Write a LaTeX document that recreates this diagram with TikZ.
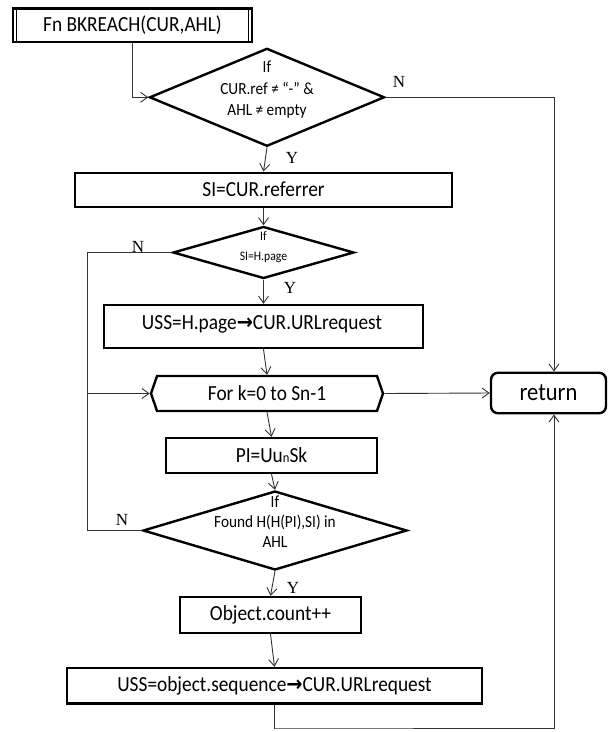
\documentclass[tikz,border=0pt]{standalone}
\usepackage{fontspec}
\setmainfont{Carlito}[FakeStretch=0.9]
\newfontfamily\ynfont{Liberation Serif}
\newfontfamily\symfont{DejaVu Sans}[FakeStretch=0.9]
\usetikzlibrary{shapes.geometric,shapes.symbols,arrows.meta}

\begin{document}
\begin{tikzpicture}[x=1pt,y=-1pt,
  box/.style={draw=black, line width=2.4pt, inner sep=0pt, font=\fontsize{21.5}{24}\selectfont},
  dec/.style={draw=black, diamond, line width=2.4pt, inner sep=0pt},
  dtext/.style={align=center, inner sep=0pt},
  btext/.style={inner sep=0pt, font=\fontsize{21.5}{24}\selectfont},
  conn/.style={draw=black!80, line width=0.9pt},
  arr/.style={conn, -{Straight Barb[length=7pt,width=10pt]}},
  yn/.style={font=\ynfont\fontsize{17}{17}\selectfont, inner sep=0pt},
]
\useasboundingbox (0,0) rectangle (608,732);

% function header with side bars
\node[box, minimum width=239, minimum height=33.4] (fn) at (132.5,25) {Fn BKREACH(CUR,AHL)};
\draw[line width=1pt] ([xshift=4.5]fn.north west) -- ([xshift=4.5]fn.south west);
\draw[line width=1pt] ([xshift=-4.5]fn.north east) -- ([xshift=-4.5]fn.south east);

% first test
\node[dec, minimum width=235, minimum height=98] (d1) at (267,97.3) {};
\node[dtext, font=\fontsize{17}{21.5}\selectfont] (d1t) at (267,90) {If\\CUR.ref ≠ “-” \&\\AHL ≠ empty};

\node[box, minimum width=377, minimum height=34] (si) at (263.5,189.7) {SI=CUR.referrer};

% second test
\node[dec, minimum width=181, minimum height=52] (d2) at (263.5,252.5) {};
\node[dtext, font=\fontsize{13}{20}\selectfont] (d2t) at (263.5,247) {If\\SI=H.page};

\node[box, minimum width=319, minimum height=43] (uss1) at (263.5,326.5) {};
\node[btext, anchor=base] (uss1t) at (262,329) {USS=H.page{\symfont\bfseries →}CUR.URLrequest};

% loop head
\node[box, signal, signal to=west and east, signal pointer angle=142,
      minimum width=232, minimum height=35] (hex) at (267,393.5) {For k=0 to Sn-1};

\node[box, rounded corners=7pt, minimum width=115, minimum height=40.5,
      font=\fontsize{25}{28}\selectfont] (ret) at (548.5,393) {return};

\node[box, minimum width=211, minimum height=35] (pi) at (271.5,455.5) {PI=Uu{\fontsize{14}{14}\selectfont n}Sk};

% third test
\node[dec, minimum width=264, minimum height=79] (d3) at (275,530.5) {};
\node[dtext, font=\fontsize{17}{20}\selectfont] (d3t) at (275,522) {If\\Found H(H(PI),SI) in\\AHL};

\node[box, minimum width=181, minimum height=36] (obj) at (270.5,615) {Object.count++};
\node[box, minimum width=415, minimum height=35.5] (uss2) at (274.5,685.7) {USS=object.sequence{\symfont\bfseries →}CUR.URLrequest};

% branch labels
\node[yn] (n1) at (399,82) {N};
\node[yn] (y1) at (292,158) {Y};
\node[yn] (n2) at (138,247) {N};
\node[yn] (y2) at (290,288) {Y};
\node[yn] (n3) at (122,520) {N};
\node[yn] (y3) at (293,588) {Y};

% connectors
\draw[arr] (fn.south) |- (d1.west);
\draw[arr] (d1.east) -| ([xshift=5.5]ret.north);
\draw[arr] (d1.south) -- (si.north);
\draw[arr] (si.south) -- (d2.north);
\coordinate (lft) at (87,252.5);
\coordinate (lfb) at (87,530.5);
\draw[conn] (d2.west) -- (lft) -- (lfb) -- (d3.west);
\draw[arr] (lft |- hex.west) -- (hex.west);
\draw[arr] (d2.south) -- (uss1.north);
\draw[arr] (uss1.south) -- (hex.north);
\draw[arr] (hex.east) -- (ret.west);
\draw[arr] (hex.south) -- (pi.north);
\draw[arr] (pi.south) -- (d3.north);
\draw[arr] (d3.south) -- (obj.north);
\draw[arr] (obj.south) -- (uss2.north);
\coordinate (bot) at (275,728);
\draw[arr] (uss2.south) |- (bot) -| ([xshift=5.5]ret.south);
\end{tikzpicture}
\end{document}
